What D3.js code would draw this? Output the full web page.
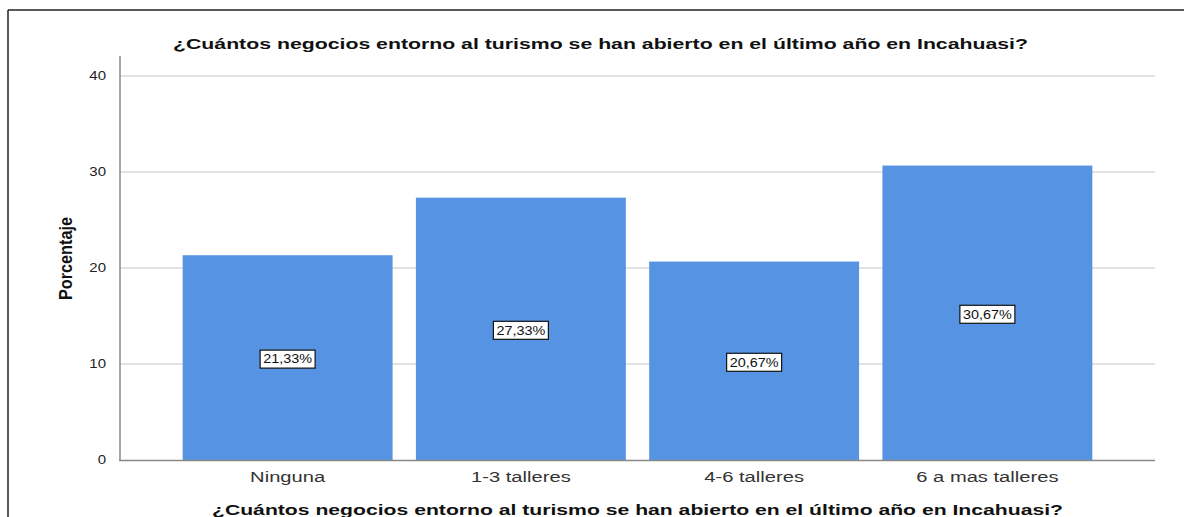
<!DOCTYPE html>
<html>
<head>
<meta charset="utf-8">
<script src="https://d3js.org/d3.v7.min.js"></script>
<style>
  body { margin: 0; background: #fff; }
  svg { font-family: "Liberation Sans", Arial, sans-serif; }
</style>
</head>
<body>
<div id="chart"></div>
<script>
// data
var categories = ["Ninguna", "1-3 talleres", "4-6 talleres", "6 a mas talleres"];
var percents = [21.33, 27.33, 20.67, 30.67];
var valueLabels = ["21,33%", "27,33%", "20,67%", "30,67%"];
var yTicks = [0, 10, 20, 30, 40];
var titleText = "¿Cuántos negocios entorno al turismo se han abierto en el último año en Incahuasi?";

var width = 1184,
    height = 517;

var svg = d3.select("#chart").append("svg")
    .attr("width", width)
    .attr("height", height);

// frame around the chart
svg.append("line").attr("x1", 8).attr("x2", width).attr("y1", 10).attr("y2", 10)
    .attr("stroke", "#222").attr("stroke-width", 1.5);
svg.append("line").attr("x1", 8).attr("x2", 8).attr("y1", 10).attr("y2", height)
    .attr("stroke", "#222").attr("stroke-width", 1.5);

var y = d3.scaleLinear().domain([0, 40]).range([460, 76]);
var x = d3.scaleBand().domain(categories).range([171, 1104]).paddingInner(0.1).paddingOuter(0.05);

// gridlines
svg.append("g")
  .selectAll("line")
  .data(yTicks.filter(function(d) { return d > 0; }))
  .enter().append("line")
    .attr("x1", 120).attr("x2", 1155)
    .attr("y1", function(d) { return y(d); })
    .attr("y2", function(d) { return y(d); })
    .attr("stroke", "#d9d9d9").attr("stroke-width", 1.3);

// bars
svg.append("g")
  .selectAll("rect")
  .data(percents)
  .enter().append("rect")
    .attr("x", function(d, i) { return x(categories[i]); })
    .attr("width", x.bandwidth())
    .attr("y", function(d) { return y(d); })
    .attr("height", function(d) { return y(0) - y(d); })
    .attr("fill", "#5694e3");

// y axis
var yAxis = svg.append("g")
    .attr("transform", "translate(120,0)")
    .call(d3.axisLeft(y).tickValues(yTicks).tickSize(0));
yAxis.select(".domain").remove();
yAxis.selectAll("text")
    .attr("x", -14 / 1.25)
    .attr("transform", "scale(1.25,1)")
    .attr("font-size", 12).attr("fill", "#222")
    .attr("font-family", "Liberation Sans, Arial, sans-serif");
svg.append("line").attr("x1", 120).attr("x2", 120).attr("y1", 56).attr("y2", 461)
    .attr("stroke", "#888").attr("stroke-width", 1.5);
svg.append("line").attr("x1", 119).attr("x2", 1155).attr("y1", 460.5).attr("y2", 460.5)
    .attr("stroke", "#888").attr("stroke-width", 1.3);

// x axis labels (the source picture is stretched sideways)
var xAxis = svg.append("g")
    .attr("transform", "translate(0,461)")
    .call(d3.axisBottom(x).tickSize(0).tickPadding(10));
xAxis.select(".domain").remove();
xAxis.selectAll("text")
    .attr("transform", "scale(1.3,1)")
    .attr("font-size", 15.5).attr("fill", "#333")
    .attr("font-family", "Liberation Sans, Arial, sans-serif");

// value labels in boxes
var lab = svg.append("g")
  .selectAll("g")
  .data(percents)
  .enter().append("g")
    .attr("transform", function(d, i) {
      return "translate(" + (x(categories[i]) + x.bandwidth() / 2) + "," + (y(d / 2) + 1.5) + ")";
    });
lab.append("rect")
    .attr("x", -27.5).attr("y", -9).attr("width", 55).attr("height", 18)
    .attr("fill", "#fff").attr("stroke", "#111").attr("stroke-width", 1.2);
lab.append("text")
    .attr("text-anchor", "middle").attr("dy", "0.36em")
    .attr("transform", "scale(1.2,1)")
    .attr("font-size", 12).attr("fill", "#111")
    .text(function(d, i) { return valueLabels[i]; });

// titles
svg.append("text")
    .attr("x", 173).attr("y", 49)
    .attr("textLength", 855).attr("lengthAdjust", "spacingAndGlyphs")
    .attr("font-size", 15).attr("font-weight", "bold").attr("fill", "#111")
    .text(titleText);
svg.append("text")
    .attr("x", 212).attr("y", 515)
    .attr("textLength", 851).attr("lengthAdjust", "spacingAndGlyphs")
    .attr("font-size", 15.5).attr("font-weight", "bold").attr("fill", "#111")
    .text(titleText);

svg.append("text")
    .attr("transform", "translate(71.5,258.5) rotate(-90)")
    .attr("x", -41.5)
    .attr("textLength", 83).attr("lengthAdjust", "spacingAndGlyphs")
    .attr("font-size", 18).attr("font-weight", "bold").attr("fill", "#111")
    .text("Porcentaje");
</script>
</body>
</html>
